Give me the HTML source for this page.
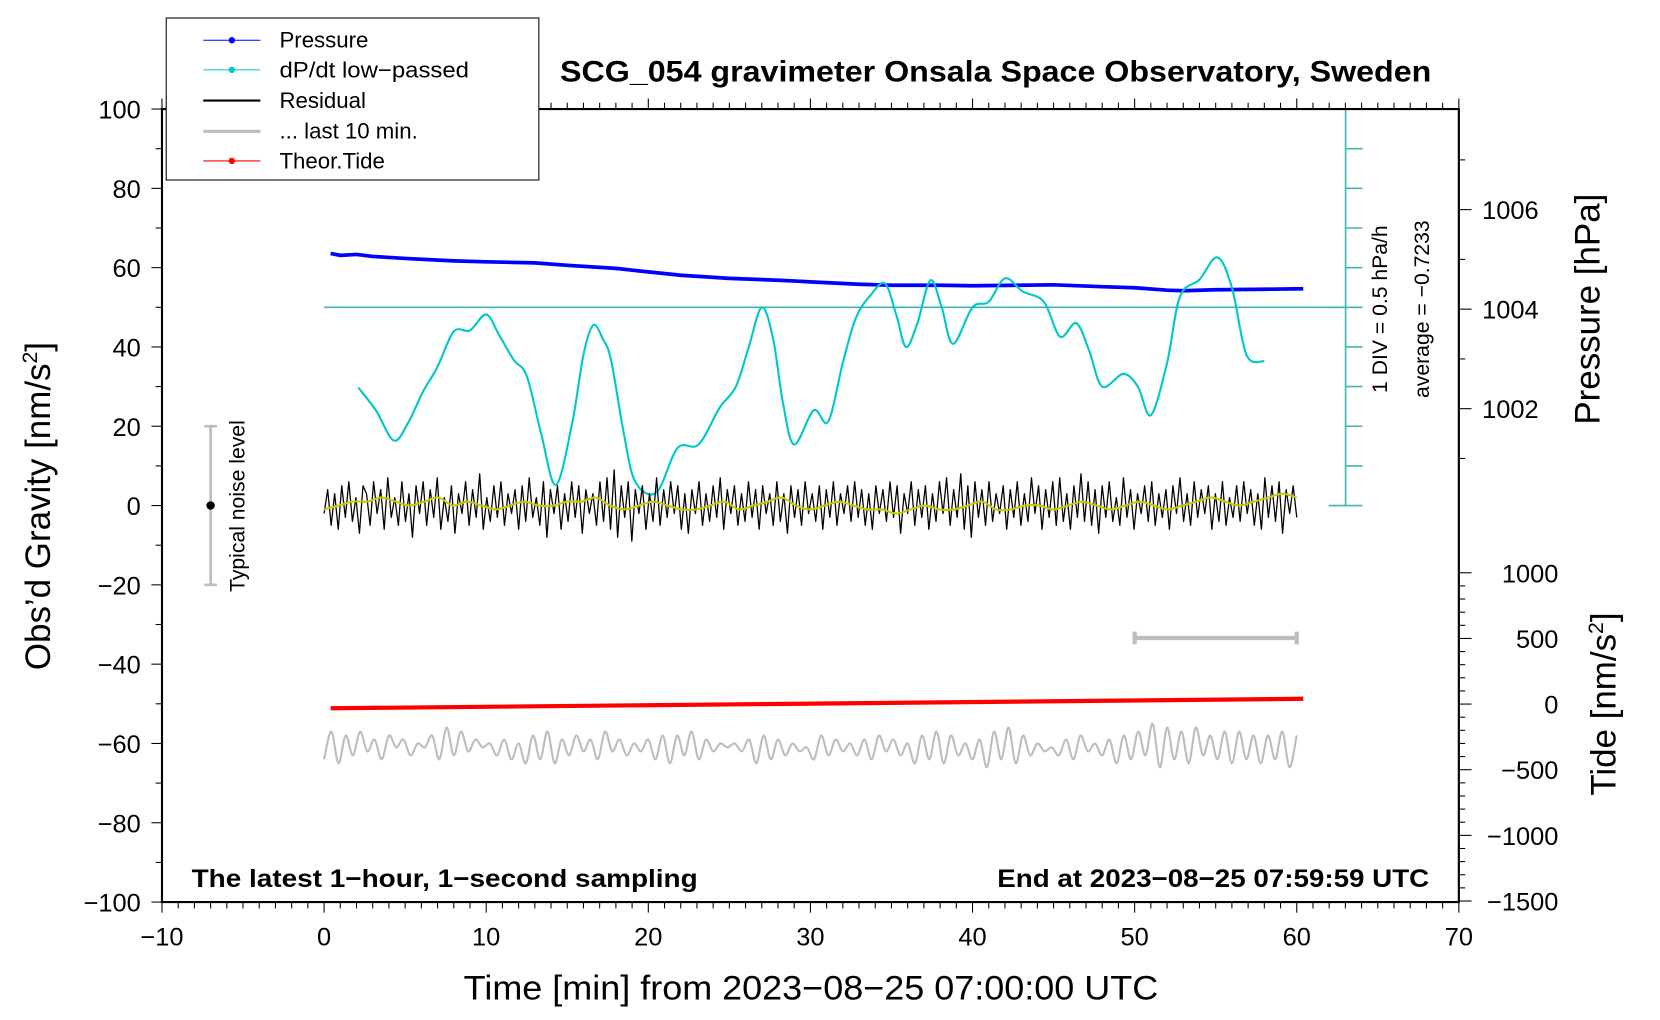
<!DOCTYPE html>
<html><head><meta charset="utf-8"><style>
html,body{margin:0;padding:0;background:#fff}
svg{display:block;font-family:"Liberation Sans",sans-serif}
</style></head><body>
<svg id="chart" width="1660" height="1020" viewBox="0 0 1568 963.4" preserveAspectRatio="none" xmlns="http://www.w3.org/2000/svg">
<g id="marks"></g>
<g id="axes"></g>
</svg>
<script>
// ---------- data ----------
const xTicks=[-10,0,10,20,30,40,50,60,70];
const yTicks=[100,80,60,40,20,0,-20,-40,-60,-80,-100];
const pTicks=[1002,1004,1006];
const tideTicks=[1000,500,0,-500,-1000,-1500];
const pressT=[0.4,1,2,3,5,8,10,13,15,18,20,22,25,28,29.4,30,33,35,38,40,43,45,48,50,52,53,55,58,60.4];
const pressV=[1005.12,1005.08,1005.1,1005.06,1005.02,1004.97,1004.95,1004.93,1004.88,1004.82,1004.75,1004.68,1004.62,1004.58,1004.56,1004.55,1004.5,1004.48,1004.48,1004.47,1004.48,1004.49,1004.45,1004.43,1004.38,1004.37,1004.39,1004.4,1004.41];
const dpdtAvg=-0.7233;
const dpT=[2.1,3.2,4.3,5.2,6.1,7,8,9,10,10.8,11.7,12.5,13.4,14.3,15.3,16.0,16.6,17.2,17.7,18.5,19.2,20.5,21.8,23.1,24.4,25.4,26.2,27,27.7,28.3,29,30.2,31.1,32,32.8,33.7,34.6,35.3,35.9,36.6,37.4,38.1,38.8,40,41,42,43.1,44.4,45.4,46.4,47.2,48,49.3,50.2,51,52,52.8,54,55.1,56,56.9,58];
const dpG=[29.8,24,16.4,21,28.7,35,43.9,44.2,48.2,43,36.7,32.7,18,5.2,20.7,38,45.5,42,36.7,18,6,3.3,14.5,15.4,24.7,30,40,50,42,26,15.4,24,21.2,36,47.3,53,56,48,40,46,56.8,50,40.8,50,51.4,57.3,54,51.4,42.6,46,39,30,33.2,30,22.8,36,52.7,57,62.6,55,38,36.4];
const tideT=[0.4,60.4];
const tideV=[-32,40];
const residual=[-2,4,-5,3,-6,5,-3,6,-4,2,-7,5,3,-5,6,-2,4,-6,7,-3,2,-5,6,-4,3,-8,5,-2,6,-5,4,-3,7,-6,2,-4,5,-7,3,-2,6,-5,4,-3,8,-6,2,-4,5,-3,6,-5,3,-2,4,-6,5,-4,7,-3,2,-5,6,-8,4,-2,5,-6,3,-4,6,-3,5,-7,4,-2,3,-5,6,-4,7,-6,9,-8,5,-3,6,-9,4,-2,5,-6,3,-4,7,-5,4,-3,6,-2,5,-6,3,-7,4,-2,6,-5,3,-4,5,-3,7,-6,4,-2,5,-5,3,-4,6,-3,4,-6,5,-2,3,-5,6,-4,3,-7,5,-3,4,-5,6,-2,3,-4,5,-6,4,-3,6,-5,3,-2,5,-4,6,-3,4,-5,3,-6,5,-2,4,-4,6,-3,5,-7,3,-2,6,-5,4,-3,5,-6,3,-4,6,-2,7,-5,4,-3,8,-6,5,-8,6,-3,4,-5,6,-4,3,-2,5,-6,4,-3,6,-5,3,-4,7,-2,5,-6,4,-3,6,-5,7,-4,3,-6,5,-3,8,-4,6,-5,4,-7,5,-3,6,-4,2,-5,7,-3,4,-6,3,-2,5,-4,6,-5,3,-3,4,-6,5,-2,7,-4,3,-5,6,-3,4,-2,5,-6,3,-4,6,-5,2,-3,5,-4,6,-2,4,-5,3,-6,7,-3,5,-4,6,-7,4,-2,5,-3];
const smooth=[-1,0,1,1,2,1,0,1,2,0,1,0,-1,0,1,0,0,1,1,2,0,-1,0,1,0,-1,-1,0,1,-1,0,1,2,0,-1,0,1,0,-1,-1,-2,-1,0,-1,-1,0,1,-1,-1,0,0,-1,0,1,0,-1,0,1,0,-1,0,1,2,1,0,1,2,3,2];
const last10=[-64,-57,-65,-58,-63,-57,-62,-59,-64,-58,-61,-59,-63,-60,-61,-58,-64,-56,-63,-57,-62,-59,-61,-60,-63,-59,-64,-60,-65,-58,-64,-57,-65,-59,-63,-58,-62,-59,-64,-57,-62,-59,-63,-60,-62,-59,-64,-58,-65,-58,-63,-57,-64,-59,-62,-60,-61,-60,-62,-59,-65,-58,-64,-59,-63,-60,-62,-61,-64,-58,-63,-59,-62,-60,-63,-59,-64,-58,-62,-59,-63,-60,-65,-58,-64,-57,-65,-58,-63,-60,-64,-59,-66,-57,-64,-56,-65,-58,-63,-60,-62,-61,-63,-59,-64,-58,-62,-60,-63,-59,-65,-58,-64,-57,-63,-55,-66,-56,-64,-57,-65,-56,-63,-58,-64,-57,-65,-57,-64,-58,-65,-58,-64,-57,-66,-58];
// ---------- scales (viewBox units) ----------
const X0=153,X1=1378,Y0=103,Y1=852;
const xs=t=>X0+(t+10)/80*(X1-X0);
const ys=g=>Y0+(100-g)/200*(Y1-Y0);
const ps=p=>292-(p-1004)*47;
const ts=v=>665-v*0.124;
const NS="http://www.w3.org/2000/svg";
const marks=document.getElementById('marks'),axes=document.getElementById('axes');
function mk(tag,at,parent,txt){const e=document.createElementNS(NS,tag);for(const k in at)e.setAttribute(k,at[k]);if(txt!==undefined)e.textContent=txt;(parent||marks).appendChild(e);return e;}
function poly(pts,stroke,w,name){const e=mk('polyline',{points:pts.map(p=>p[0].toFixed(1)+','+p[1].toFixed(1)).join(' '),fill:'none',stroke:stroke,'stroke-width':w,'stroke-linejoin':'round'});


return e;}
function smoothPath(pts,stroke,w,name){let d='M'+pts[0][0]+','+pts[0][1];
for(let i=0;i<pts.length-1;i++){const p0=pts[i-1]||pts[i],p1=pts[i],p2=pts[i+1],p3=pts[i+2]||p2;
const c1=[p1[0]+(p2[0]-p0[0])/6,p1[1]+(p2[1]-p0[1])/6],c2=[p2[0]-(p3[0]-p1[0])/6,p2[1]-(p3[1]-p1[1])/6];
d+=' C'+c1[0].toFixed(1)+','+c1[1].toFixed(1)+' '+c2[0].toFixed(1)+','+c2[1].toFixed(1)+' '+p2[0].toFixed(1)+','+p2[1].toFixed(1);}
const e=mk('path',{d:d,fill:'none',stroke:stroke,'stroke-width':w});


return e;}
// cyan axis
const cx=1271;
let cl=mk('line',{x1:cx,y1:Y0,x2:cx,y2:ys(0),stroke:'#3fb6b0','stroke-width':1.5});


for(let g=0;g<=100;g+=10){const big=(g===0||g===50||g===100);mk('line',{x1:big?cx-16:cx,y1:ys(g),x2:cx+16,y2:ys(g),stroke:'#3fb6b0','stroke-width':1.5});}
let hl=mk('line',{x1:xs(0),y1:ys(50),x2:cx+16,y2:ys(50),stroke:'#3fb6b0','stroke-width':1.5});


// pressure
poly(pressT.map((t,i)=>[xs(t),ps(pressV[i])]),'#0000ff',3.5,'pressure-line');
// dP/dt
smoothPath(dpT.map((t,i)=>[xs(t),ys(dpG[i])]),'#00c8c8',2,'dpdt-line');
// residual
poly(residual.map((v,i)=>[xs(i*60/(residual.length-1)),ys(v)]),'#000',1.2,'residual-line');
smoothPath(smooth.map((v,i)=>[xs(i*60/(smooth.length-1)),ys(v)]),'#c8c800',2,'residual-smoothed-line');
// last 10 min
smoothPath(last10.map((v,i)=>[xs(i*60/(last10.length-1)),ys(v)]),'#bdbdbd',2,'last-10-min-line');
// tide
poly(tideT.map((t,i)=>[xs(t),ts(tideV[i])]),'#ff0000',4,'theoretical-tide-line');
// scale bar
let sb=mk('g',{stroke:'#bdbdbd','stroke-width':4});


mk('line',{x1:xs(50),y1:ys(-33.4),x2:xs(60),y2:ys(-33.4)},sb);
mk('line',{x1:xs(50),y1:ys(-33.4)-6,x2:xs(50),y2:ys(-33.4)+6},sb);
mk('line',{x1:xs(60),y1:ys(-33.4)-6,x2:xs(60),y2:ys(-33.4)+6},sb);
// noise bar
let nb=mk('g',{stroke:'#bdbdbd','stroke-width':2.5});


mk('line',{x1:xs(-7),y1:ys(20),x2:xs(-7),y2:ys(-20)},nb);
mk('line',{x1:xs(-7)-6,y1:ys(20),x2:xs(-7)+6,y2:ys(20)},nb);
mk('line',{x1:xs(-7)-6,y1:ys(-20),x2:xs(-7)+6,y2:ys(-20)},nb);
mk('circle',{cx:xs(-7),cy:ys(0),r:4,fill:'#000'});
// ---------- axes ----------
const A=axes;
let fr=mk('rect',{x:X0,y:Y0,width:X1-X0,height:Y1-Y0,fill:'none',stroke:'#000','stroke-width':2},A);


for(let t=-10;t<=70;t++){const maj=t%10===0;mk('line',{x1:xs(t),y1:Y1,x2:xs(t),y2:Y1+(maj?10:6),stroke:'#000','stroke-width':1},A);mk('line',{x1:xs(t),y1:Y0,x2:xs(t),y2:Y0-(maj?10:6),stroke:'#000','stroke-width':1},A);}
xTicks.forEach(t=>{let e=mk('text',{x:xs(t),y:893,'font-size':24,'text-anchor':'middle'},A,String(t).replace('-','\u2212'));

});
for(let g=-100;g<=100;g+=10){mk('line',{x1:X0,y1:ys(g),x2:X0-(g%20===0?10:6),y2:ys(g),stroke:'#000','stroke-width':1},A);}
yTicks.forEach(g=>{let e=mk('text',{x:133,y:ys(g)+9,'font-size':24,'text-anchor':'end'},A,String(g).replace('-','\u2212'));

});
for(let p=1001;p<=1007;p++){mk('line',{x1:X1,y1:ps(p),x2:X1+(p%2===0?12:6),y2:ps(p),stroke:'#000','stroke-width':1},A);}
pTicks.forEach(p=>{let e=mk('text',{x:1400,y:ps(p)+9,'font-size':24},A,String(p));

});
for(let v=-1500;v<=1000;v+=100){mk('line',{x1:X1,y1:ts(v),x2:X1+(v%500===0?12:6),y2:ts(v),stroke:'#000','stroke-width':1},A);}
tideTicks.forEach(v=>{let e=mk('text',{x:1472,y:ts(v)+9,'font-size':24,'text-anchor':'end'},A,String(v).replace('-','\u2212'));

});
</script>
<svg style="position:absolute;left:0;top:0" width="1660" height="1020" viewBox="0 0 1568 963.4" preserveAspectRatio="none" font-family="Liberation Sans, sans-serif">
<text x="529" y="77" font-size="28" font-weight="bold" textLength="823" lengthAdjust="spacingAndGlyphs">SCG_054 gravimeter Onsala Space Observatory, Sweden</text>
<text x="438" y="944" font-size="32" textLength="656" lengthAdjust="spacingAndGlyphs">Time [min] from 2023−08−25 07:00:00 UTC</text>
<text transform="translate(47,478) rotate(-90)" font-size="33" text-anchor="middle">Obs’d Gravity [nm/s<tspan font-size="20" dy="-12">2</tspan><tspan dy="12">]</tspan></text>
<text transform="translate(1511,292) rotate(-90)" font-size="33" text-anchor="middle">Pressure [hPa]</text>
<text transform="translate(1526,665) rotate(-90)" font-size="33" text-anchor="middle">Tide [nm/s<tspan font-size="20" dy="-12">2</tspan><tspan dy="12">]</tspan></text>
<text transform="translate(1310,292) rotate(-90)" font-size="20" text-anchor="middle">1 DIV = 0.5 hPa/h</text>
<text transform="translate(1350,292) rotate(-90)" font-size="20" text-anchor="middle">average = −0.7233</text>
<text transform="translate(231,478) rotate(-90)" font-size="20" text-anchor="middle">Typical noise level</text>
<text x="181" y="838" font-size="24" font-weight="bold" textLength="478" lengthAdjust="spacingAndGlyphs">The latest 1−hour, 1−second sampling</text>
<text x="942" y="838" font-size="24" font-weight="bold" textLength="408" lengthAdjust="spacingAndGlyphs">End at 2023−08−25 07:59:59 UTC</text>
<g>
<rect x="157" y="17" width="352" height="153" fill="#fff" stroke="#000" stroke-width="1"/>
<g><line x1="192" y1="38" x2="246" y2="38" stroke="#0000ff"/><circle cx="219" cy="38" r="3" fill="#0000ff"/><text x="264" y="45" font-size="21">Pressure</text></g>
<g><line x1="192" y1="66" x2="246" y2="66" stroke="#00c8c8"/><circle cx="219" cy="66" r="3" fill="#00c8c8"/><text x="264" y="73" font-size="21" textLength="179" lengthAdjust="spacingAndGlyphs">dP/dt low−passed</text></g>
<g><line x1="192" y1="95" x2="246" y2="95" stroke="#000" stroke-width="2"/><text x="264" y="102" font-size="21">Residual</text></g>
<g><line x1="192" y1="124" x2="246" y2="124" stroke="#bdbdbd" stroke-width="3"/><text x="264" y="131" font-size="21">... last 10 min.</text></g>
<g><line x1="192" y1="152" x2="246" y2="152" stroke="#ff0000"/><circle cx="219" cy="152" r="3" fill="#ff0000"/><text x="264" y="159" font-size="21">Theor.Tide</text></g>
</g>
</svg>
</body></html>
